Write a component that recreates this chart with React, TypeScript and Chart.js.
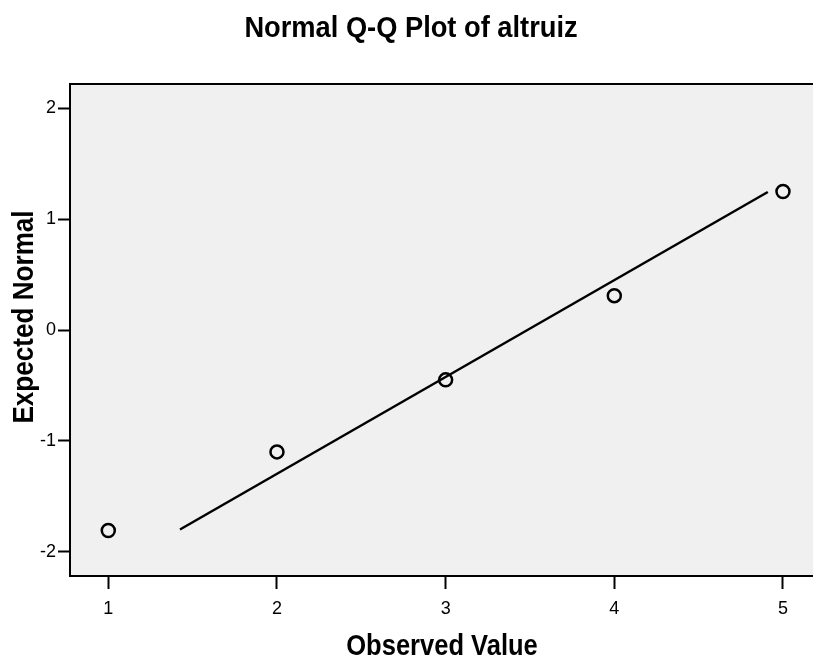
import React, { useEffect, useRef } from "react";
import { Chart, registerables } from "chart.js";

Chart.register(...registerables);

const observedValues = [1, 2, 3, 4, 5];
const expectedNormal = [-1.81, -1.1, -0.45, 0.31, 1.25];
const lineObserved = [1.425, 4.91];
const lineExpected = [-1.8, 1.245];
const xTickValues = [1, 2, 3, 4, 5];
const yTickValues = [-2, -1, 0, 1, 2];

const titleText = "Normal Q-Q Plot of altruiz";
const xTitle = "Observed Value";
const yTitle = "Expected Normal";

const FONT = "'Liberation Sans', Arial, sans-serif";

export default function App() {
  const ref = useRef<HTMLCanvasElement | null>(null);

  useEffect(() => {
    document.body.style.margin = "0";
    const canvas = ref.current;
    if (!canvas) return;

    const decor = {
      id: "decor",
      beforeDraw(chart: any) {
        const { ctx, chartArea } = chart;
        ctx.save();
        ctx.fillStyle = "#f0f0f0";
        ctx.fillRect(chartArea.left, chartArea.top, chartArea.right - chartArea.left, chartArea.bottom - chartArea.top);
        ctx.restore();
      },
      afterDraw(chart: any) {
        const { ctx, chartArea } = chart;
        ctx.save();
        ctx.strokeStyle = "#000";
        ctx.lineWidth = 2;
        ctx.beginPath();
        ctx.moveTo(chartArea.left - 1, chartArea.top);
        ctx.lineTo(chartArea.right, chartArea.top);
        ctx.stroke();

        ctx.fillStyle = "#000";
        ctx.textAlign = "center";
        ctx.textBaseline = "alphabetic";
        // title
        ctx.save();
        ctx.font = `bold 29px ${FONT}`;
        ctx.translate(411, 37);
        ctx.scale(0.94, 1);
        ctx.fillText(titleText, 0, 0);
        ctx.restore();
        // x title
        ctx.save();
        ctx.font = `bold 29px ${FONT}`;
        ctx.translate(442, 655);
        ctx.scale(0.88, 1);
        ctx.fillText(xTitle, 0, 0);
        ctx.restore();
        // y title
        ctx.save();
        ctx.font = `bold 29px ${FONT}`;
        ctx.translate(33, 317);
        ctx.rotate(-Math.PI / 2);
        ctx.scale(0.9, 1);
        ctx.fillText(yTitle, 0, 0);
        ctx.restore();
        ctx.restore();
      },
    };

    const chart = new Chart(canvas, {
      type: "scatter",
      data: {
        datasets: [
          {
            label: "line",
            data: lineObserved.map((x, i) => ({ x, y: lineExpected[i] })),
            showLine: true,
            borderColor: "#000",
            borderWidth: 2.5,
            pointRadius: 0,
            fill: false,
          },
          {
            label: "points",
            data: observedValues.map((x, i) => ({ x, y: expectedNormal[i] })),
            pointRadius: 6.5,
            pointBorderWidth: 2.5,
            borderColor: "#000",
            backgroundColor: "rgba(0,0,0,0)",
            pointStyle: "circle",
          },
        ],
      },
      options: {
        responsive: false,
        animation: false,
        devicePixelRatio: 1,
        layout: { autoPadding: false, padding: { top: 84, left: 0, right: 0, bottom: 0 } },
        plugins: {
          legend: { display: false },
          tooltip: { enabled: false },
          title: { display: false },
        },
        scales: {
          x: {
            type: "linear",
            min: 0.773,
            max: 5.178,
            afterBuildTicks: (scale: any) => {
              scale.ticks = xTickValues.map((v) => ({ value: v }));
            },
            afterFit: (scale: any) => {
              scale.height = 81;
              scale.paddingLeft = 0;
              scale.paddingRight = 0;
            },
            grid: {
              drawOnChartArea: false,
              drawTicks: true,
              tickLength: 13,
              tickWidth: 2,
              tickColor: "#000",
            },
            border: { display: true, color: "#000", width: 2 },
            ticks: {
              color: "#000",
              padding: 9,
              maxRotation: 0,
              font: { family: FONT, size: 18 },
            },
          },
          y: {
            type: "linear",
            min: -2.22,
            max: 2.22,
            afterBuildTicks: (scale: any) => {
              scale.ticks = yTickValues.map((v) => ({ value: v }));
            },
            afterFit: (scale: any) => {
              scale.width = 70;
              scale.paddingTop = 0;
              scale.paddingBottom = 0;
            },
            grid: {
              drawOnChartArea: false,
              drawTicks: true,
              tickLength: 12,
              tickWidth: 2,
              tickColor: "#000",
            },
            border: { display: true, color: "#000", width: 2 },
            ticks: {
              color: "#000",
              padding: 2,
              font: { family: FONT, size: 18 },
            },
          },
        },
      },
      plugins: [decor],
    });

    return () => chart.destroy();
  }, []);

  return (
    <div style={{ width: 813, height: 657 }}>
      <canvas ref={ref} width={813} height={657} style={{ display: "block" }} />
    </div>
  );
}
